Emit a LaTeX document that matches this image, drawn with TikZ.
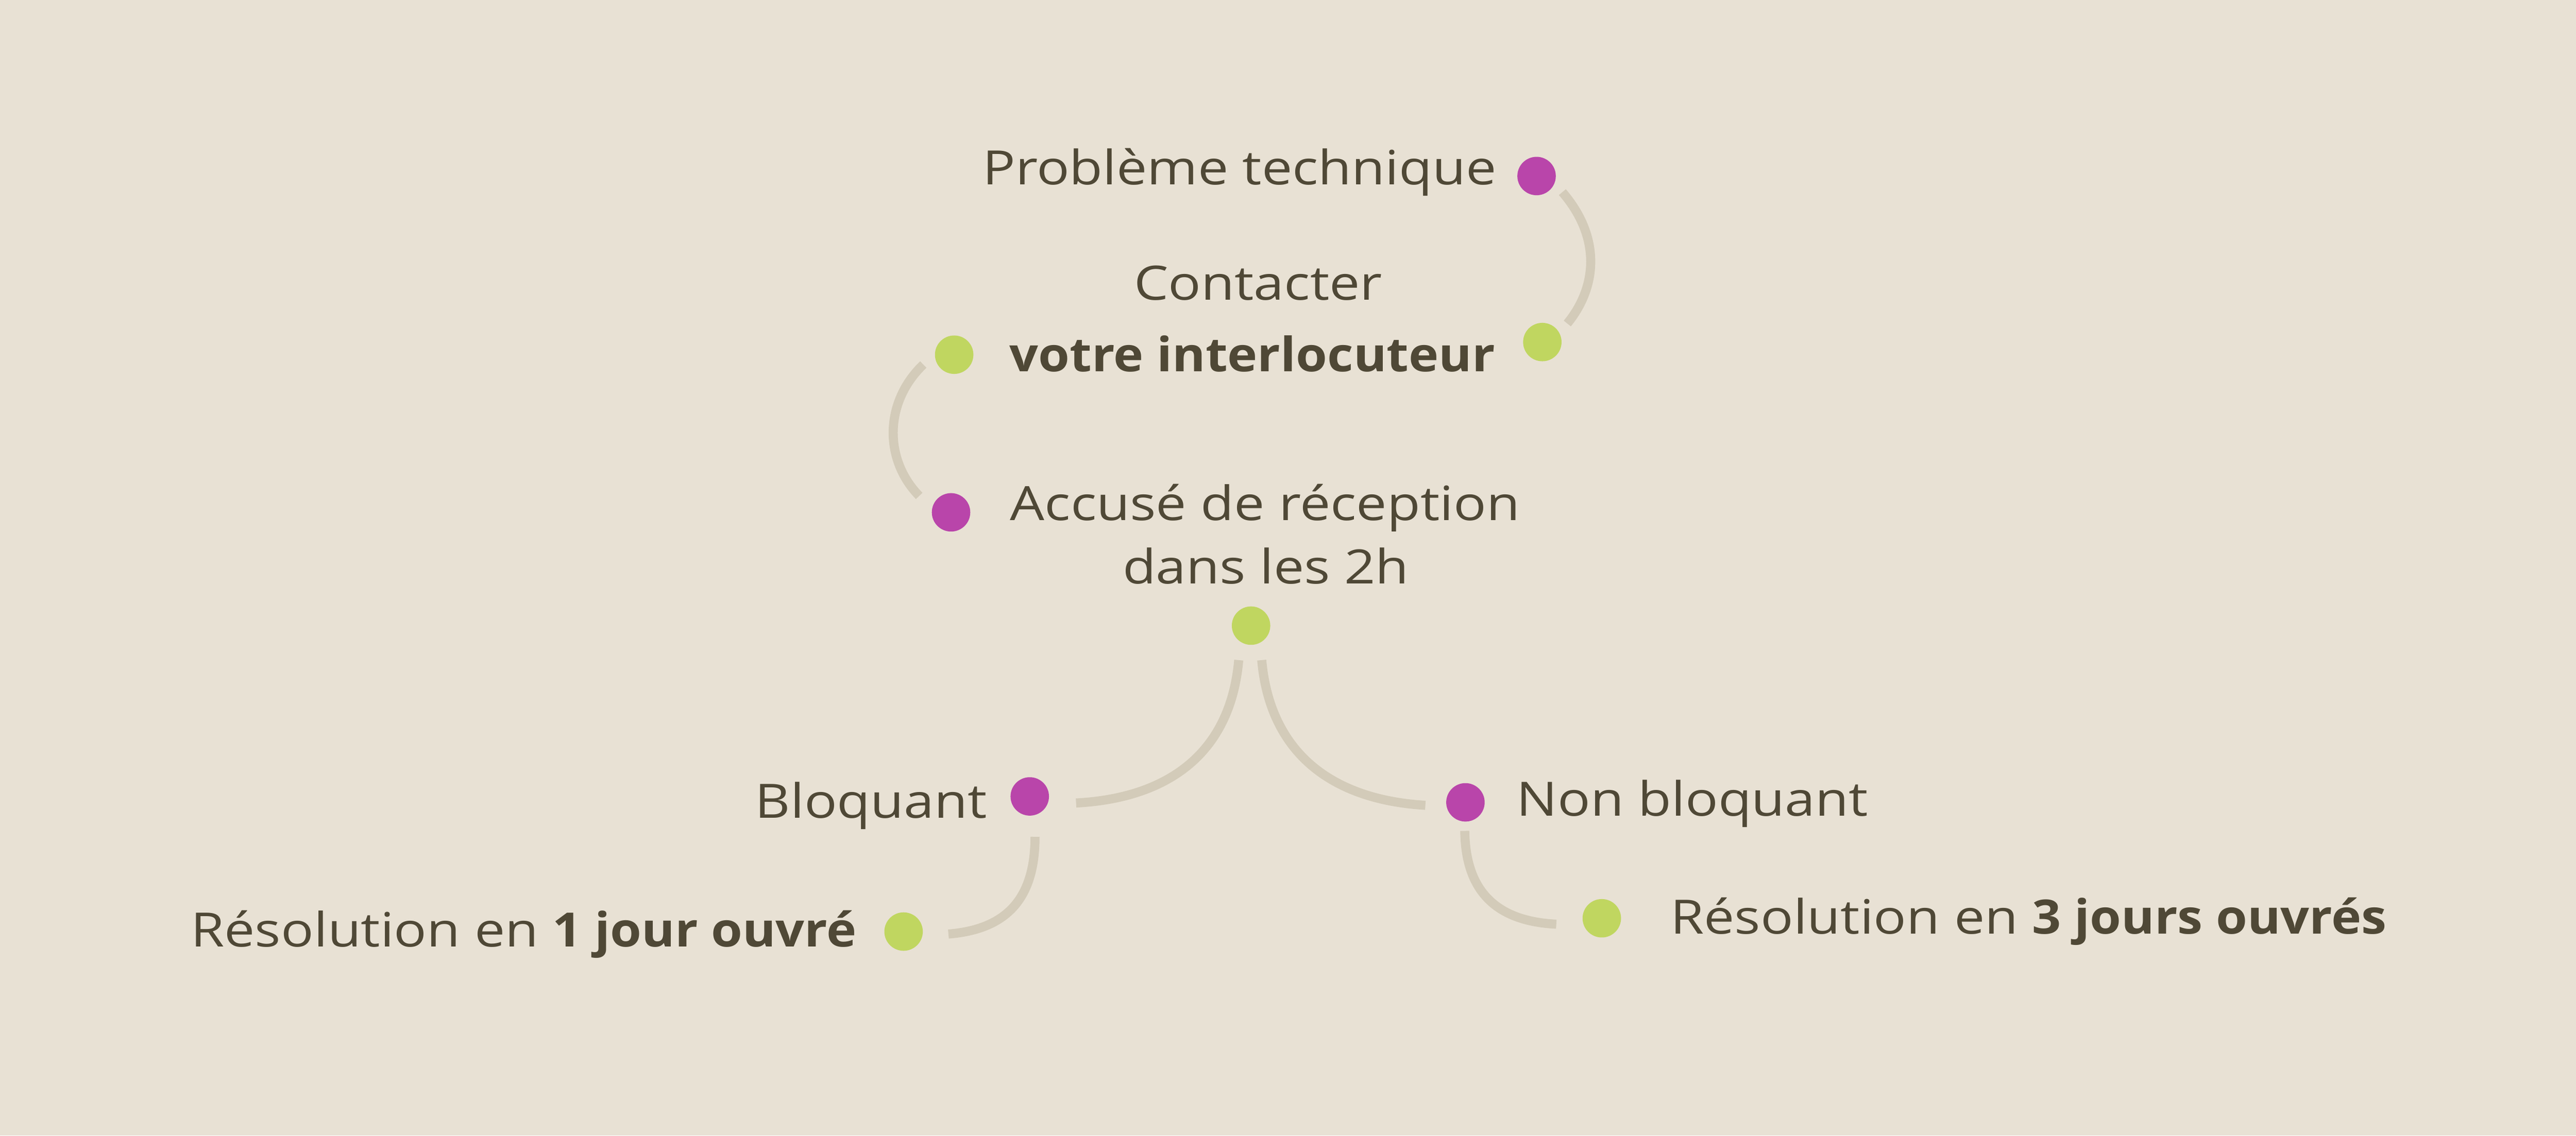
\documentclass[tikz,border=0pt]{standalone}
\usepackage{fontspec}
\setmainfont{Open Sans}[FakeStretch=1.15,BoldFeatures={FakeStretch=1.07}]
\definecolor{bgc}{HTML}{E8E1D4}
\definecolor{mag}{HTML}{B945AA}
\definecolor{grn}{HTML}{C0D660}
\definecolor{txt}{HTML}{4F4836}
\definecolor{lnk}{HTML}{D3CBB9}
\tikzset{
  dot/.style={circle,inner sep=0pt,minimum size=1.0125cm},
  mdot/.style={dot,fill=mag},
  gdot/.style={dot,fill=grn},
  lbl/.style={inner sep=0pt,text=txt,font=\fontsize{35.5}{43}\selectfont},
  link/.style={draw=lnk,line width=6.8pt,line cap=butt},
}
\begin{document}
\begin{tikzpicture}[x=0.04327cm,y=-0.04327cm]
\fill[bgc] (0,0) rectangle (1568,691.5);
\useasboundingbox (0,0) rectangle (1568,691.5);
% dots
\node[mdot] (d1) at (935.3,107.2) {};
\node[gdot] (d2) at (938.8,208.3) {};
\node[gdot] (d3) at (580.8,216) {};
\node[mdot] (d4) at (578.9,312) {};
\node[gdot] (d5) at (761.5,381) {};
\node[mdot] (d6) at (626.8,485) {};
\node[mdot] (d7) at (892,488.6) {};
\node[gdot] (d8) at (550,567.3) {};
\node[gdot] (d9) at (975,559.2) {};
% labels
\node[lbl,anchor=base east] (t1) at (911,112.3) {Problème technique};
\node[lbl,anchor=base] (t2a) at (765.8,182.8) {Contacter};
\node[lbl,anchor=base] (t2b) at (762.3,226.2) {\textbf{votre interlocuteur}};
\node[lbl,anchor=base] (t3a) at (770,316.9) {Accusé de réception};
\node[lbl,anchor=base] (t3b) at (770.5,355.5) {dans les 2h};
\node[lbl,anchor=base east] (t4) at (600.9,498) {Bloquant};
\node[lbl,anchor=base west] (t5) at (923,496.9) {Non bloquant};
\node[lbl,anchor=base east] (t6) at (521.6,576.6) {Résolution en \textbf{1 jour ouvré}};
\node[lbl,anchor=base west] (t7) at (1016.6,568.8) {Résolution en \textbf{3 jours ouvrés}};
% connector ends
\coordinate (a1) at (951,117);   \coordinate (a2) at (954,197);
\coordinate (b1) at (562,222);   \coordinate (b2) at (559.5,302);
\coordinate (c1) at (754,402);   \coordinate (c2) at (655,489);
\coordinate (e1) at (768,402);   \coordinate (e2) at (867.6,490.4);
\coordinate (f1) at (630,509.6); \coordinate (f2) at (577.3,568.8);
\coordinate (g1) at (891.6,506); \coordinate (g2) at (947.3,562.8);
% connectors
\draw[link] (a1) .. controls (975,145) and (972,175) .. (a2);
\draw[link] (b1) .. controls (538,245) and (538,280) .. (b2);
\draw[link] (c1) .. controls (749,458) and (712,486) .. (c2);
\draw[link] (e1) .. controls (773,458) and (810,487) .. (e2);
\draw[link] (f1) .. controls (630,548) and (612,566) .. (f2);
\draw[link] (g1) .. controls (892,542) and (910,561) .. (g2);
\end{tikzpicture}
\end{document}
